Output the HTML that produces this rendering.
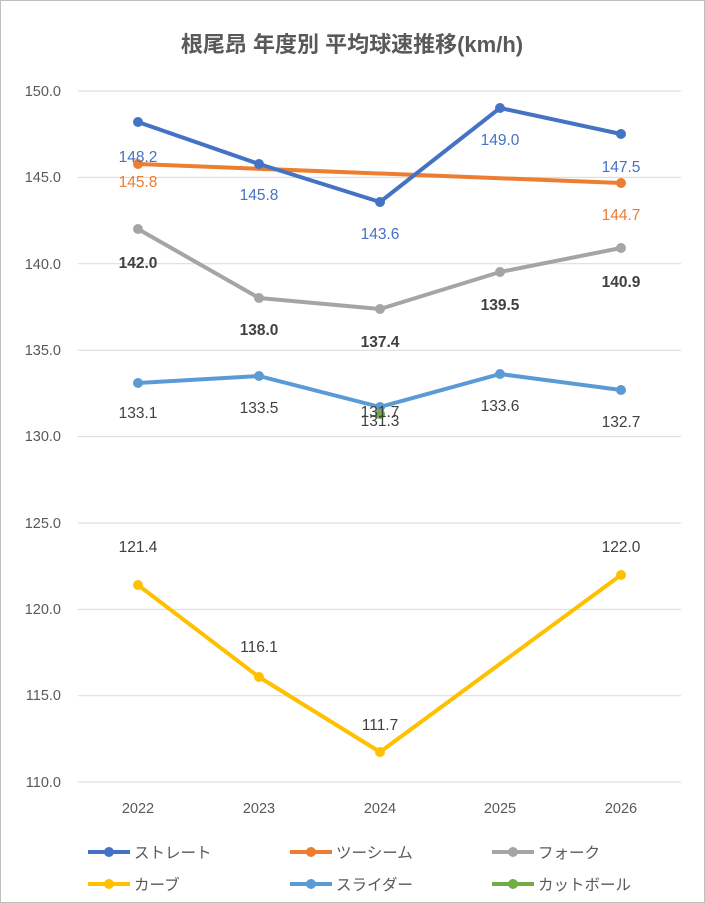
<!DOCTYPE html><html><head><meta charset="utf-8"><style>body{margin:0;background:#fff}svg{display:block}text{font-family:"Liberation Sans","Noto Sans CJK JP",sans-serif}</style></head><body>
<svg width="705" height="903" xmlns="http://www.w3.org/2000/svg">
<rect x="0.5" y="0.5" width="704" height="902" fill="#fff" stroke="#bfbfbf"/>
<text x="352" y="52" text-anchor="middle" font-size="22" font-weight="bold" fill="#595959">根尾昂 年度別 平均球速推移(km/h)</text>
<g stroke="#d9d9d9" stroke-width="1">
<line x1="78" x2="681" y1="91" y2="91"/><line x1="78" x2="681" y1="177.4" y2="177.4"/><line x1="78" x2="681" y1="263.8" y2="263.8"/><line x1="78" x2="681" y1="350.2" y2="350.2"/><line x1="78" x2="681" y1="436.6" y2="436.6"/><line x1="78" x2="681" y1="523" y2="523"/><line x1="78" x2="681" y1="609.4" y2="609.4"/><line x1="78" x2="681" y1="695.8" y2="695.8"/><line x1="78" x2="681" y1="782" y2="782"/>
</g>
<g font-size="14.5" fill="#595959" text-anchor="end">
<text x="61" y="96">150.0</text><text x="61" y="182">145.0</text><text x="61" y="269">140.0</text><text x="61" y="355">135.0</text><text x="61" y="441">130.0</text><text x="61" y="528">125.0</text><text x="61" y="614">120.0</text><text x="61" y="700">115.0</text><text x="61" y="787">110.0</text>
</g>
<g font-size="14.5" fill="#595959" text-anchor="middle">
<text x="138" y="813">2022</text><text x="259" y="813">2023</text><text x="380" y="813">2024</text><text x="500" y="813">2025</text><text x="621" y="813">2026</text>
</g>
<g fill="none" stroke-width="4" stroke-linejoin="round">
<polyline stroke="#FFC000" points="138,585 259,677 380,752 621,575"/>
<polyline stroke="#5B9BD5" points="138,383 259,376 380,407 500,374 621,390"/>
<polyline stroke="#A5A5A5" points="138,229 259,298 380,309 500,272 621,248"/>
<polyline stroke="#ED7D31" points="138,164 621,183"/>
<polyline stroke="#4472C4" points="138,122 259,164 380,202 500,108 621,134"/>
</g>
<g fill="#FFC000"><circle cx="138" cy="585" r="5"/><circle cx="259" cy="677" r="5"/><circle cx="380" cy="752" r="5"/><circle cx="621" cy="575" r="5"/></g>
<g fill="#5B9BD5"><circle cx="138" cy="383" r="5"/><circle cx="259" cy="376" r="5"/><circle cx="380" cy="407" r="5"/><circle cx="500" cy="374" r="5"/><circle cx="621" cy="390" r="5"/></g>
<circle cx="380" cy="414" r="5" fill="#70AD47"/>
<g fill="#A5A5A5"><circle cx="138" cy="229" r="5"/><circle cx="259" cy="298" r="5"/><circle cx="380" cy="309" r="5"/><circle cx="500" cy="272" r="5"/><circle cx="621" cy="248" r="5"/></g>
<g fill="#ED7D31"><circle cx="138" cy="164" r="5"/><circle cx="621" cy="183" r="5"/></g>
<g fill="#4472C4"><circle cx="138" cy="122" r="5"/><circle cx="259" cy="164" r="5"/><circle cx="380" cy="202" r="5"/><circle cx="500" cy="108" r="5"/><circle cx="621" cy="134" r="5"/></g>
<g font-size="15.5" text-anchor="middle">
<g fill="#4472C4"><text x="138" y="162">148.2</text><text x="259" y="200">145.8</text><text x="380" y="239">143.6</text><text x="500" y="145">149.0</text><text x="621" y="172">147.5</text></g>
<g fill="#ED7D31"><text x="138" y="187">145.8</text><text x="621" y="220">144.7</text></g>
<g fill="#404040" font-weight="bold"><text x="138" y="268">142.0</text><text x="259" y="335">138.0</text><text x="380" y="347">137.4</text><text x="500" y="310">139.5</text><text x="621" y="287">140.9</text></g>
<g fill="#404040"><text x="138" y="418">133.1</text><text x="259" y="413">133.5</text><text x="380" y="417">131.7</text><text x="500" y="411">133.6</text><text x="621" y="427">132.7</text><text x="380" y="426">131.3</text></g>
<g fill="#404040"><text x="138" y="552">121.4</text><text x="259" y="652">116.1</text><text x="380" y="730">111.7</text><text x="621" y="552">122.0</text></g>
</g>
<g stroke-width="4">
<line x1="88" x2="130" y1="852" y2="852" stroke="#4472C4"/><circle cx="109" cy="852" r="5" fill="#4472C4"/>
<line x1="290" x2="332" y1="852" y2="852" stroke="#ED7D31"/><circle cx="311" cy="852" r="5" fill="#ED7D31"/>
<line x1="492" x2="534" y1="852" y2="852" stroke="#A5A5A5"/><circle cx="513" cy="852" r="5" fill="#A5A5A5"/>
<line x1="88" x2="130" y1="884" y2="884" stroke="#FFC000"/><circle cx="109" cy="884" r="5" fill="#FFC000"/>
<line x1="290" x2="332" y1="884" y2="884" stroke="#5B9BD5"/><circle cx="311" cy="884" r="5" fill="#5B9BD5"/>
<line x1="492" x2="534" y1="884" y2="884" stroke="#70AD47"/><circle cx="513" cy="884" r="5" fill="#70AD47"/>
</g>
<g font-size="15.5" fill="#595959">
<text x="134" y="858">ストレート</text><text x="336" y="858">ツーシーム</text><text x="538" y="858">フォーク</text>
<text x="134" y="890">カーブ</text><text x="336" y="890">スライダー</text><text x="538" y="890">カットボール</text>
</g>
</svg></body></html>
